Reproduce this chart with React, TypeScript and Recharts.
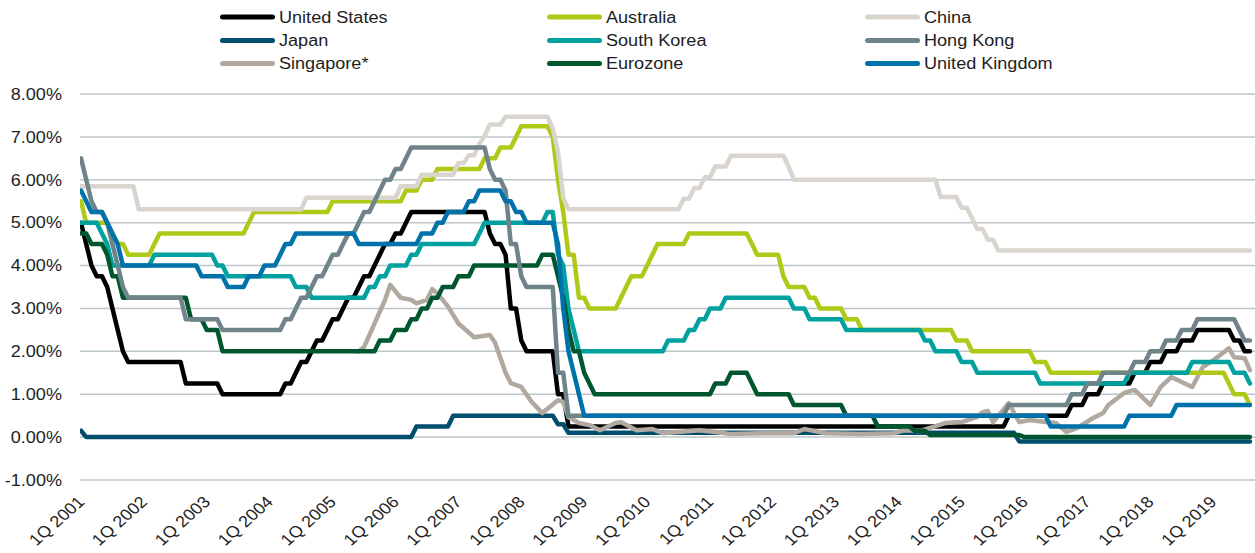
import { CartesianGrid, Line, LineChart, XAxis, YAxis } from 'recharts'

// [month, rate %] — policy rate changes (value holds until the next entry)
type Point = [string, number]

const years = [2001, 2002, 2003, 2004, 2005, 2006, 2007, 2008, 2009, 2010, 2011, 2012, 2013, 2014, 2015, 2016, 2017, 2018, 2019]
const yTicks = [-1, 0, 1, 2, 3, 4, 5, 6, 7, 8]
const lastMonth = '2019-10'

const unitedStates: Point[] = [
	['2001-03', 5.0], ['2001-04', 4.5], ['2001-05', 4.0], ['2001-06', 3.75], ['2001-08', 3.5], ['2001-09', 3.0],
	['2001-10', 2.5], ['2001-11', 2.0], ['2001-12', 1.75], ['2002-11', 1.25], ['2003-06', 1.0], ['2004-06', 1.25],
	['2004-08', 1.5], ['2004-09', 1.75], ['2004-11', 2.0], ['2004-12', 2.25], ['2005-02', 2.5], ['2005-03', 2.75],
	['2005-05', 3.0], ['2005-06', 3.25], ['2005-08', 3.5], ['2005-09', 3.75], ['2005-11', 4.0], ['2005-12', 4.25],
	['2006-01', 4.5], ['2006-03', 4.75], ['2006-05', 5.0], ['2006-06', 5.25], ['2007-09', 4.75], ['2007-10', 4.5],
	['2007-12', 4.25], ['2008-01', 3.0], ['2008-03', 2.25], ['2008-04', 2.0], ['2008-10', 1.0], ['2008-12', 0.25],
	['2015-12', 0.5], ['2016-12', 0.75], ['2017-03', 1.0], ['2017-06', 1.25], ['2017-12', 1.5], ['2018-03', 1.75],
	['2018-06', 2.0], ['2018-09', 2.25], ['2018-12', 2.5], ['2019-07', 2.25], ['2019-09', 2.0],
]

const japan: Point[] = [
	['2001-03', 0.15], ['2001-04', 0.0], ['2006-07', 0.25], ['2007-02', 0.5], ['2008-10', 0.3], ['2008-12', 0.1],
	['2016-02', -0.1],
]

// Singapore is not a step series: these are the points of the line itself
const singapore: Point[] = [
	['2005-08', 2.0], ['2005-09', 2.1], ['2006-01', 3.2], ['2006-02', 3.55], ['2006-04', 3.25], ['2006-06', 3.2],
	['2006-07', 3.12], ['2006-09', 3.2], ['2006-10', 3.45], ['2006-11', 3.35], ['2007-01', 3.05], ['2007-03', 2.65],
	['2007-06', 2.33], ['2007-09', 2.38], ['2007-10', 2.2], ['2007-12', 1.5], ['2008-01', 1.26], ['2008-03', 1.17],
	['2008-05', 0.82], ['2008-07', 0.56], ['2008-10', 0.86], ['2008-11', 0.82], ['2008-12', 0.47], ['2009-02', 0.33],
	['2009-04', 0.28], ['2009-06', 0.16], ['2009-09', 0.33], ['2009-10', 0.35], ['2010-01', 0.16], ['2010-04', 0.19],
	['2010-06', 0.09], ['2010-09', 0.12], ['2011-01', 0.16], ['2011-04', 0.12], ['2011-07', 0.07], ['2012-01', 0.09],
	['2012-07', 0.09], ['2012-09', 0.19], ['2012-11', 0.14], ['2013-01', 0.09], ['2013-08', 0.07], ['2014-02', 0.09],
	['2014-04', 0.16], ['2014-07', 0.14], ['2014-12', 0.33], ['2015-03', 0.35], ['2015-06', 0.47], ['2015-07', 0.58],
	['2015-08', 0.61], ['2015-09', 0.35], ['2015-12', 0.79], ['2016-02', 0.35], ['2016-04', 0.4], ['2016-07', 0.35],
	['2016-09', 0.33], ['2016-11', 0.12], ['2017-01', 0.21], ['2017-04', 0.44], ['2017-06', 0.56], ['2017-07', 0.75],
	['2017-10', 1.03], ['2017-12', 1.1], ['2018-03', 0.75], ['2018-05', 1.17], ['2018-07', 1.4], ['2018-11', 1.17],
	['2019-01', 1.63], ['2019-03', 1.79], ['2019-06', 2.07], ['2019-07', 1.86], ['2019-09', 1.84], ['2019-10', 1.56],
]

const australia: Point[] = [
	['2001-03', 5.5], ['2001-04', 5.0], ['2001-09', 4.75], ['2001-10', 4.5], ['2001-12', 4.25], ['2002-05', 4.5],
	['2002-06', 4.75], ['2003-11', 5.0], ['2003-12', 5.25], ['2005-03', 5.5], ['2006-05', 5.75], ['2006-08', 6.0],
	['2006-11', 6.25], ['2007-08', 6.5], ['2007-11', 6.75], ['2008-02', 7.0], ['2008-03', 7.25], ['2008-09', 7.0],
	['2008-10', 6.0], ['2008-11', 5.25], ['2008-12', 4.25], ['2009-02', 3.25], ['2009-04', 3.0], ['2009-10', 3.25],
	['2009-11', 3.5], ['2009-12', 3.75], ['2010-03', 4.0], ['2010-04', 4.25], ['2010-05', 4.5], ['2010-11', 4.75],
	['2011-11', 4.5], ['2011-12', 4.25], ['2012-05', 3.75], ['2012-06', 3.5], ['2012-10', 3.25], ['2012-12', 3.0],
	['2013-05', 2.75], ['2013-08', 2.5], ['2015-02', 2.25], ['2015-05', 2.0], ['2016-05', 1.75], ['2016-08', 1.5],
	['2019-06', 1.25], ['2019-07', 1.0], ['2019-10', 0.75],
]

const southKorea: Point[] = [
	['2001-03', 5.0], ['2001-07', 4.75], ['2001-08', 4.5], ['2001-09', 4.0], ['2002-05', 4.25], ['2003-05', 4.0],
	['2003-07', 3.75], ['2004-08', 3.5], ['2004-11', 3.25], ['2005-10', 3.5], ['2005-12', 3.75], ['2006-02', 4.0],
	['2006-06', 4.25], ['2006-08', 4.5], ['2007-07', 4.75], ['2007-08', 5.0], ['2008-08', 5.25], ['2008-10', 4.25],
	['2008-11', 4.0], ['2008-12', 3.0], ['2009-01', 2.5], ['2009-02', 2.0], ['2010-07', 2.25], ['2010-11', 2.5],
	['2011-01', 2.75], ['2011-03', 3.0], ['2011-06', 3.25], ['2012-07', 3.0], ['2012-10', 2.75], ['2013-05', 2.5],
	['2014-08', 2.25], ['2014-10', 2.0], ['2015-03', 1.75], ['2015-06', 1.5], ['2016-06', 1.25], ['2017-11', 1.5],
	['2018-11', 1.75], ['2019-07', 1.5], ['2019-10', 1.25],
]

const eurozone: Point[] = [
	['2001-03', 4.75], ['2001-05', 4.5], ['2001-08', 4.25], ['2001-09', 3.75], ['2001-11', 3.25], ['2002-12', 2.75],
	['2003-03', 2.5], ['2003-06', 2.0], ['2005-12', 2.25], ['2006-03', 2.5], ['2006-06', 2.75], ['2006-08', 3.0],
	['2006-10', 3.25], ['2006-12', 3.5], ['2007-03', 3.75], ['2007-06', 4.0], ['2008-07', 4.25], ['2008-10', 3.75],
	['2008-11', 3.25], ['2008-12', 2.5], ['2009-01', 2.0], ['2009-03', 1.5], ['2009-04', 1.25], ['2009-05', 1.0],
	['2011-04', 1.25], ['2011-07', 1.5], ['2011-11', 1.25], ['2011-12', 1.0], ['2012-07', 0.75], ['2013-05', 0.5],
	['2013-11', 0.25], ['2014-06', 0.15], ['2014-09', 0.05], ['2016-03', 0.0],
]

const china: Point[] = [
	['2001-03', 5.85], ['2002-02', 5.31], ['2004-10', 5.58], ['2006-04', 5.85], ['2006-08', 6.12], ['2007-03', 6.39],
	['2007-05', 6.57], ['2007-07', 6.84], ['2007-08', 7.02], ['2007-09', 7.29], ['2007-12', 7.47], ['2008-09', 7.2],
	['2008-10', 6.66], ['2008-11', 5.58], ['2008-12', 5.31], ['2010-10', 5.56], ['2010-12', 5.81], ['2011-02', 6.06],
	['2011-04', 6.31], ['2011-07', 6.56], ['2012-06', 6.31], ['2012-07', 6.0], ['2014-11', 5.6], ['2015-03', 5.35],
	['2015-05', 5.1], ['2015-06', 4.85], ['2015-08', 4.6], ['2015-10', 4.35],
]

const hongKong: Point[] = [
	['2001-03', 6.5], ['2001-04', 6.0], ['2001-05', 5.5], ['2001-06', 5.25], ['2001-08', 5.0], ['2001-09', 4.5],
	['2001-10', 4.0], ['2001-11', 3.5], ['2001-12', 3.25], ['2002-11', 2.75], ['2003-06', 2.5], ['2004-06', 2.75],
	['2004-08', 3.0], ['2004-09', 3.25], ['2004-11', 3.5], ['2004-12', 3.75], ['2005-02', 4.0], ['2005-03', 4.25],
	['2005-05', 4.5], ['2005-06', 4.75], ['2005-08', 5.0], ['2005-09', 5.25], ['2005-11', 5.5], ['2005-12', 5.75],
	['2006-01', 6.0], ['2006-03', 6.25], ['2006-05', 6.5], ['2006-06', 6.75], ['2007-09', 6.25], ['2007-10', 6.0],
	['2007-12', 5.75], ['2008-01', 4.5], ['2008-03', 3.75], ['2008-04', 3.5], ['2008-10', 1.5], ['2008-12', 0.5],
	['2015-12', 0.75], ['2016-12', 1.0], ['2017-03', 1.25], ['2017-06', 1.5], ['2017-12', 1.75], ['2018-03', 2.0],
	['2018-06', 2.25], ['2018-09', 2.5], ['2018-12', 2.75], ['2019-08', 2.5], ['2019-09', 2.25],
]

const unitedKingdom: Point[] = [
	['2001-03', 5.75], ['2001-04', 5.5], ['2001-05', 5.25], ['2001-08', 5.0], ['2001-09', 4.75], ['2001-10', 4.5],
	['2001-11', 4.0], ['2003-02', 3.75], ['2003-07', 3.5], ['2003-11', 3.75], ['2004-02', 4.0], ['2004-05', 4.25],
	['2004-06', 4.5], ['2004-08', 4.75], ['2005-08', 4.5], ['2006-08', 4.75], ['2006-11', 5.0], ['2007-01', 5.25],
	['2007-05', 5.5], ['2007-07', 5.75], ['2007-12', 5.5], ['2008-02', 5.25], ['2008-04', 5.0], ['2008-10', 4.5],
	['2008-11', 3.0], ['2008-12', 2.0], ['2009-01', 1.5], ['2009-02', 1.0], ['2009-03', 0.5], ['2016-08', 0.25],
	['2017-11', 0.5], ['2018-08', 0.75],
]

// months since Mar 2001 (the "1Q 2001" category)
const monthIndex = (m: string) => {
	const [y, mo] = m.split('-').map(Number)
	return (y - 2001) * 12 + (mo - 3)
}

// monthly line through step changes: old value the month before, new value in the change month
const stepLine = (changes: Point[]) => {
	const out: { x: number; y: number }[] = []
	changes.forEach(([m, v], i) => {
		const x = monthIndex(m)
		if (i > 0) {
			const prev = out[out.length - 1]
			if (x - 1 > prev.x) out.push({ x: x - 1, y: prev.y })
		}
		out.push({ x, y: v })
	})
	const end = monthIndex(lastMonth)
	const tail = out[out.length - 1]
	if (tail.x < end) out.push({ x: end, y: tail.y })
	return out
}

const pointLine = (pts: Point[]) => pts.map(([m, v]) => ({ x: monthIndex(m), y: v }))

const series = [
	{ name: 'United States', color: '#000000', data: stepLine(unitedStates) },
	{ name: 'Japan', color: '#004e6e', data: stepLine(japan) },
	{ name: 'Singapore*', color: '#b1a89f', data: pointLine(singapore) },
	{ name: 'Australia', color: '#b0c918', data: stepLine(australia) },
	{ name: 'South Korea', color: '#00a19f', data: stepLine(southKorea) },
	{ name: 'Eurozone', color: '#00562f', data: stepLine(eurozone) },
	{ name: 'China', color: '#d9d4ce', data: stepLine(china) },
	{ name: 'Hong Kong', color: '#6f8488', data: stepLine(hongKong) },
	{ name: 'United Kingdom', color: '#0072aa', data: stepLine(unitedKingdom) },
]

const FONT = '"Liberation Sans", Arial, sans-serif'
const TEXT = '#1e1e1e'
const STRETCH = 1.13
const monthPx = 62.9 / 12
const xMin = -1 / monthPx
const xMax = xMin + 1175 / monthPx

const XTick = (props: any) => {
	const { x, payload } = props
	const year = 2001 + Math.round(payload.value / 12)
	return (
		<text
			transform={`translate(${x + 4.5},503) scale(${STRETCH},1) rotate(-45)`}
			textAnchor="end"
			fontFamily={FONT}
			fontSize={16}
			fill={TEXT}
		>
			1Q {year}
		</text>
	)
}

const YTick = (props: any) => {
	const { y, payload } = props
	return (
		<text
			transform={`translate(62,${y}) scale(${STRETCH},1)`}
			textAnchor="end"
			dy="0.36em"
			fontFamily={FONT}
			fontSize={16}
			fill={TEXT}
		>
			{payload.value.toFixed(2)}%
		</text>
	)
}

const legendCols = [220, 547, 865]
const legendRows = [17, 40.5, 63.5]

const Legend = () => (
	<svg width={1255} height={80} style={{ position: 'absolute', left: 0, top: 0 }}>
		{series.map((s, i) => {
			const cx = legendCols[Math.floor(i / 3)]
			const cy = legendRows[i % 3]
			return (
				<g key={s.name}>
					<line x1={cx + 2.5} x2={cx + 52.5} y1={cy} y2={cy} stroke={s.color} strokeWidth={5} strokeLinecap="round" />
					<text
						transform={`translate(${cx + 59},${cy}) scale(${STRETCH},1)`}
						dy="0.36em"
						fontFamily={FONT}
						fontSize={16}
						fill={TEXT}
					>
						{s.name}
					</text>
				</g>
			)
		})}
	</svg>
)

export default function App() {
	return (
		<div style={{ position: 'absolute', left: 0, top: 0, width: 1255, height: 553, background: '#fff' }}>
			<LineChart width={1255} height={553} margin={{ top: 94, right: 0, bottom: 0, left: 0 }}>
				<CartesianGrid vertical={false} stroke="#bcc6c9" strokeWidth={1.5} />
				<XAxis
					type="number"
					dataKey="x"
					domain={[xMin, xMax]}
					ticks={years.map((y) => (y - 2001) * 12)}
					interval={0}
					allowDataOverflow
					height={73}
					axisLine={false}
					tickLine={false}
					tick={(p: any) => <XTick {...p} />}
				/>
				<YAxis
					type="number"
					domain={[-1, 8]}
					ticks={yTicks}
					interval={0}
					width={80}
					axisLine={false}
					tickLine={false}
					tick={(p: any) => <YTick {...p} />}
				/>
				{series.map((s) => (
					<Line
						key={s.name}
						data={s.data}
						dataKey="y"
						name={s.name}
						type="linear"
						stroke={s.color}
						strokeWidth={4.5}
						strokeLinecap="round"
						strokeLinejoin="round"
						dot={false}
						activeDot={false}
						isAnimationActive={false}
					/>
				))}
			</LineChart>
			<Legend />
		</div>
	)
}
